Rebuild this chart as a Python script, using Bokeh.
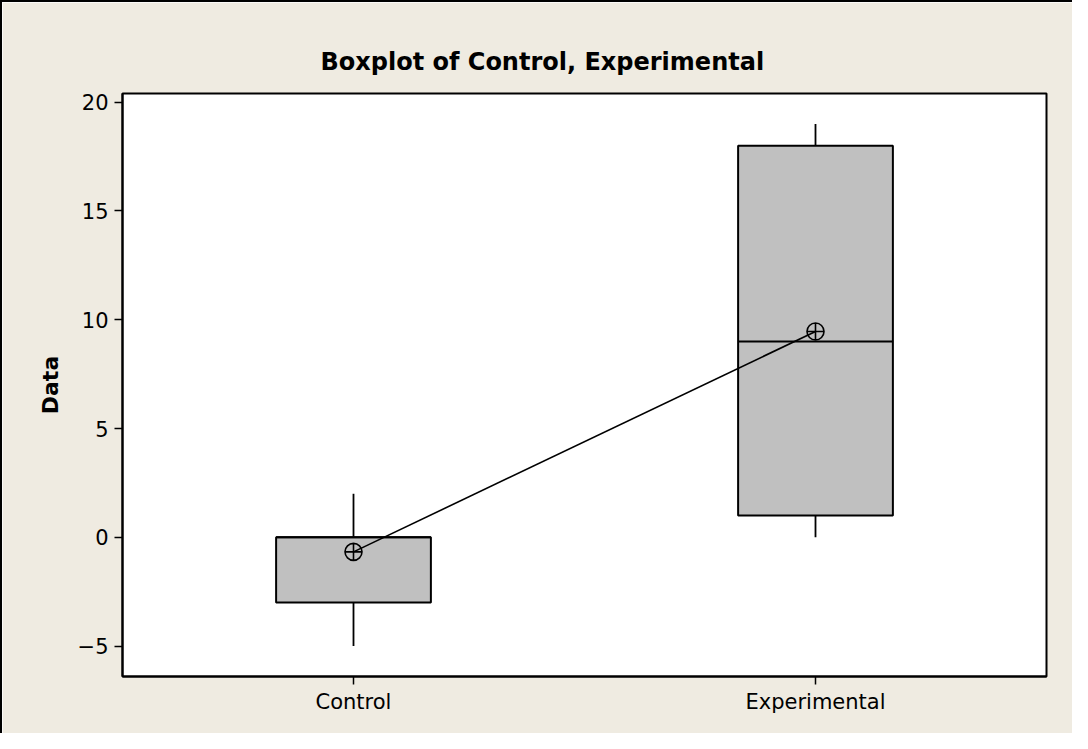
from bokeh.plotting import figure
from bokeh.models import FixedTicker, Range1d
from bokeh.embed import file_html
from bokeh.resources import INLINE

categories = ["Control", "Experimental"]
positions = [1, 2]
whisker_low = [-5, 0]
q1 = [-3, 1]
median = [0, 9]
q3 = [0, 18]
whisker_high = [2, 19]
means = [-0.67, 9.46]
y_ticks = [-5, 0, 5, 10, 15, 20]
title_text = "Boxplot of Control, Experimental"

BG = "#EFEBE1"
FONT = "DejaVu Sans"
W, H = 1072, 733
BL, BT, BR, BB = 120, 91, 28, 59

p = figure(width=W, height=H, output_backend="svg", toolbar_location=None,
           x_range=Range1d(0.5, 2.5), y_range=Range1d(-6.4, 20.4),
           min_border_left=BL, min_border_top=BT, min_border_right=BR, min_border_bottom=BB,
           background_fill_color="white", border_fill_color=BG,
           styles={"border-left": "2px solid black", "border-top": "2px solid black"})

p.title.text = title_text
p.title.align = "left"
p.title.offset = 198
p.title.standoff = 36
p.title.text_font = FONT
p.title.text_font_size = "24px"
p.title.text_font_style = "bold"
p.title.text_color = "black"

p.outline_line_color = "black"
p.outline_line_width = 2
p.grid.visible = False

p.xaxis.ticker = FixedTicker(ticks=positions)
p.xaxis.major_label_overrides = {pos: c for pos, c in zip(positions, categories)}
p.yaxis.ticker = FixedTicker(ticks=y_ticks)
for ax in (p.xaxis, p.yaxis):
    ax.axis_line_color = "black"
    ax.axis_line_width = 2
    ax.major_tick_line_color = "black"
    ax.major_tick_line_width = 1.5
    ax.major_tick_out = 8
    ax.major_tick_in = 0
    ax.minor_tick_line_color = None
    ax.major_label_text_font = FONT
    ax.major_label_text_font_size = "21px"
    ax.major_label_text_color = "black"
p.xaxis.major_label_standoff = 5
p.yaxis.major_label_standoff = 6
p.yaxis.axis_label = "Data"
p.yaxis.axis_label_text_font = FONT
p.yaxis.axis_label_text_font_size = "22px"
p.yaxis.axis_label_text_font_style = "bold"
p.yaxis.axis_label_text_color = "black"
p.yaxis.axis_label_standoff = 12

# whiskers
p.segment(x0=positions, y0=whisker_low, x1=positions, y1=q1, line_color="black", line_width=1.8)
p.segment(x0=positions, y0=q3, x1=positions, y1=whisker_high, line_color="black", line_width=1.8)
# boxes
p.vbar(x=positions, width=0.335, bottom=q1, top=q3, fill_color="#C0C0C0",
       line_color="black", line_width=2)
# medians
half = 0.335 / 2
p.segment(x0=[x - half for x in positions], y0=median, x1=[x + half for x in positions], y1=median,
          line_color="black", line_width=2)
# mean connect line and symbols
p.line(x=positions, y=means, line_color="black", line_width=1.6)
p.scatter(x=positions, y=means, marker="circle_cross", size=17, fill_color=None,
          line_color="black", line_width=1.6)

open("out.html", "w").write(file_html(p, INLINE))
